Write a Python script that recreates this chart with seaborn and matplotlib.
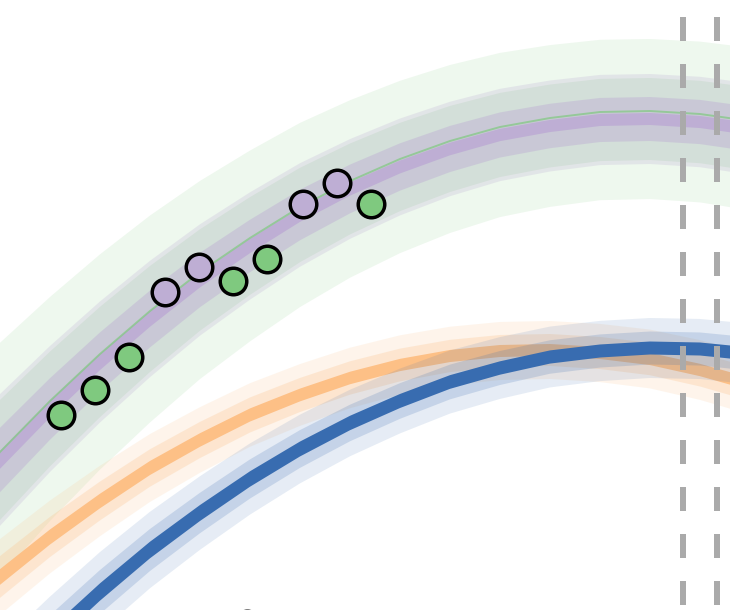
import numpy as np
import pandas as pd
import matplotlib
matplotlib.use("Agg")
import matplotlib.pyplot as plt
import seaborn as sns

grid_x = [-1.5, -1.0, -0.5, 0.0, 0.5, 1.0, 1.5, 2.0, 2.5, 3.0, 3.5,
          4.0, 4.5, 5.0, 5.5, 6.0, 6.5, 7.0, 7.5, 8.0, 8.5, 9.0]

green_fit = [-0.21, 0.43, 1.02, 1.58, 2.09, 2.56, 2.99, 3.38, 3.72, 4.03, 4.29,
             4.51, 4.69, 4.83, 4.92, 4.98, 4.99, 4.96, 4.89, 4.78, 4.62, 4.43]
purple_fit = [-0.29, 0.35, 0.94, 1.50, 2.01, 2.48, 2.91, 3.30, 3.64, 3.95, 4.21,
              4.43, 4.61, 4.75, 4.84, 4.90, 4.91, 4.88, 4.81, 4.70, 4.54, 4.35]
orange_fit = [-1.10, -0.59, -0.11, 0.33, 0.73, 1.09, 1.42, 1.70, 1.95, 2.15, 2.32,
              2.45, 2.54, 2.59, 2.60, 2.57, 2.51, 2.40, 2.26, 2.07, 1.85, 1.59]
blue_fit = [-2.48, -1.87, -1.30, -0.77, -0.28, 0.18, 0.60, 0.97, 1.31, 1.61, 1.87,
            2.09, 2.28, 2.42, 2.53, 2.59, 2.62, 2.61, 2.56, 2.47, 2.34, 2.17]

# observed points
green_x = [0.61, 0.95, 1.29, 2.33, 2.67, 3.71]
green_y = [1.95, 2.20, 2.53, 3.29, 3.51, 4.06]
purple_x = [1.65, 1.99, 3.03, 3.37]
purple_y = [3.18, 3.43, 4.06, 4.27]
blue_x = [2.47]
blue_y = [-0.14]

# cut-off markers
cutoffs = [6.83, 7.17]

colors = {'green': '#7fc97f', 'purple': '#beaed4',
          'orange': '#fdc086', 'blue': '#386cb0'}

sns.set_style('white')
plt.rcParams['lines.scale_dashes'] = False

fig = plt.figure(figsize=(7.3, 6.1), dpi=100)
ax = fig.add_axes([0, 0, 1, 1])

gx = np.array(grid_x)

def band(y, color, half, alpha, z):
    # band of constant width measured across the curve (x and y share the scale)
    y = np.array(y)
    stretch = np.sqrt(1 + np.gradient(y, gx) ** 2)
    ax.fill_between(gx, y - half * stretch, y + half * stretch, color=color,
                    alpha=alpha, linewidth=0, zorder=z)

band(purple_fit, colors['green'], 0.80, 0.13, 1)
band(purple_fit, colors['green'], 0.41, 0.17, 1)
band(purple_fit, colors['purple'], 0.45, 0.25, 2)
band(purple_fit, colors['purple'], 0.22, 0.45, 2)
band(purple_fit, colors['purple'], 0.06, 1.0, 2)
sns.lineplot(x=grid_x, y=green_fit, ax=ax, color=colors['green'], linewidth=1.4,
             alpha=0.7, zorder=3)
band(orange_fit, colors['orange'], 0.29, 0.16, 3)
band(orange_fit, colors['orange'], 0.16, 0.27, 3)
band(orange_fit, colors['orange'], 0.06, 1.0, 3)
band(blue_fit, colors['blue'], 0.30, 0.125, 3)
band(blue_fit, colors['blue'], 0.165, 0.19, 3)
band(blue_fit, colors['blue'], 0.065, 1.0, 3)

for c in cutoffs:
    ax.axvline(c, color='#aaaaaa', linewidth=4.32,
               linestyle=(30.24, (17.28, 16.56)), zorder=4)

pts = dict(s=365, edgecolor='black', linewidth=2.5, zorder=5)
sns.scatterplot(x=green_x, y=green_y, ax=ax, color=colors['green'], **pts)
sns.scatterplot(x=purple_x, y=purple_y, ax=ax, color=colors['purple'], **pts)
sns.scatterplot(x=blue_x, y=blue_y, ax=ax, color=colors['blue'], **pts)

ax.set_xlim(0, 7.3)
ax.set_ylim(0, 6.1)
ax.set_axis_off()
if ax.get_legend() is not None:
    ax.get_legend().remove()

fig.savefig('out.png', dpi=100)
